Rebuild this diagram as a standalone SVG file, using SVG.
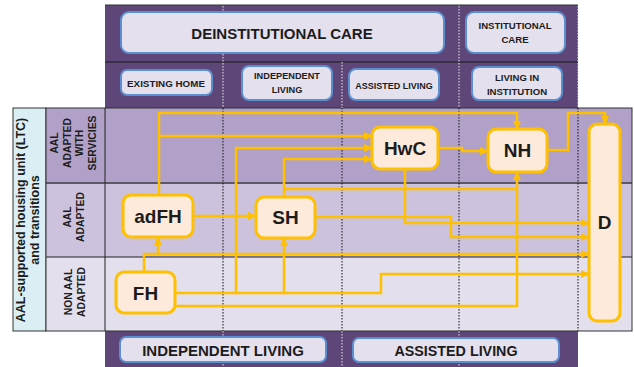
<svg xmlns="http://www.w3.org/2000/svg" width="634" height="367" viewBox="0 0 634 367">
<style>
text{font-family:"Liberation Sans",Arial,sans-serif;font-weight:bold;fill:#1c1c1c;text-anchor:middle}
.band{fill:#5e4778}
.hbox{fill:#e5e0ee;stroke:#5a8fd0;stroke-width:2}
.node rect{fill:#fdeadb;stroke:#ffc000;stroke-width:3}
.node text{font-size:19px}
.conn path{fill:none;stroke:#ffc000;stroke-width:2.5}
.arr{marker-end:url(#ah)}
.dotb{stroke:#111;stroke-width:1;stroke-dasharray:1.5 1.5}
.dotw{stroke:#e8e8e8;stroke-width:1;stroke-dasharray:1.5 1.5}
.rl{font-size:10.3px}
.ll{font-size:12.5px}
</style>
<defs>
<marker id="ah" markerUnits="userSpaceOnUse" markerWidth="9" markerHeight="8" refX="8" refY="4" orient="auto">
<path d="M0,0 L9,4 L0,8 z" fill="#ffc000"/>
</marker>
</defs>
<rect width="634" height="367" fill="#fff"/>

<!-- top band -->
<rect class="band" x="105" y="5" width="473" height="103"/>
<line x1="105" y1="5" x2="578" y2="5" stroke="#333" stroke-width="1"/>
<line x1="105" y1="62" x2="578" y2="62" stroke="#2e2838" stroke-width="1.5"/>
<!-- bottom band -->
<rect class="band" x="105" y="331" width="473" height="36"/>

<!-- table rows -->
<rect x="13" y="108" width="33" height="223" fill="#daeef3" stroke="#333" stroke-width="1"/>
<rect x="46" y="108" width="586" height="75" fill="#b1a1c8"/>
<rect x="46" y="183" width="586" height="74" fill="#cdc2dd"/>
<rect x="46" y="257" width="586" height="74" fill="#e3dfed"/>
<line x1="46" y1="183" x2="632" y2="183" stroke="#5d5868" stroke-width="2"/>
<line x1="46" y1="257" x2="632" y2="257" stroke="#222" stroke-width="1"/>
<rect x="46" y="108" width="586" height="223" fill="none" stroke="#333" stroke-width="1"/>
<line x1="105" y1="108" x2="105" y2="331" stroke="#222" stroke-width="1"/>

<!-- dotted lines -->
<g>
<line class="dotw" x1="223" y1="6" x2="223" y2="108"/>
<line class="dotw" x1="342" y1="62" x2="342" y2="108"/>
<line class="dotw" x1="459" y1="6" x2="459" y2="108"/>
<line class="dotw" x1="578" y1="6" x2="578" y2="108"/>
<line class="dotb" x1="223" y1="108" x2="223" y2="331"/>
<line class="dotb" x1="342" y1="108" x2="342" y2="331"/>
<line class="dotb" x1="459" y1="108" x2="459" y2="331"/>
<line class="dotb" x1="578" y1="108" x2="578" y2="331"/>
<line class="dotw" x1="223" y1="331" x2="223" y2="367"/>
<line class="dotw" x1="342" y1="331" x2="342" y2="367"/>
<line class="dotw" x1="459" y1="331" x2="459" y2="367"/>
</g>

<!-- header boxes -->
<g id="deinst"><rect class="hbox" x="121" y="12" width="323" height="41" rx="8"/><text x="282" y="39" font-size="15">DEINSTITUTIONAL CARE</text></g>
<g id="inst"><rect class="hbox" x="466" y="12" width="99" height="41" rx="8"/><text x="515" y="29" font-size="9.6">INSTITUTIONAL</text><text x="515" y="43" font-size="9.6">CARE</text></g>
<g id="existing"><rect class="hbox" x="121" y="70" width="91" height="25" rx="6"/><text x="166" y="86.5" font-size="9.8">EXISTING HOME</text></g>
<g id="indep"><rect class="hbox" x="242" y="66" width="90" height="34" rx="7"/><text x="287" y="79" font-size="9.2">INDEPENDENT</text><text x="287" y="93" font-size="9.2">LIVING</text></g>
<g id="assist"><rect class="hbox" x="349" y="69" width="90" height="31" rx="7"/><text x="394" y="88.5" font-size="9">ASSISTED LIVING</text></g>
<g id="livinst"><rect class="hbox" x="472" y="67" width="90" height="33" rx="7"/><text x="517" y="81" font-size="9.6">LIVING IN</text><text x="517" y="95" font-size="9.6">INSTITUTION</text></g>
<g id="indepliving"><rect class="hbox" x="120" y="337" width="206" height="25" rx="6"/><text x="223" y="356" font-size="15">INDEPENDENT LIVING</text></g>
<g id="assistliving"><rect class="hbox" x="353" y="338" width="206" height="24" rx="6"/><text x="456" y="356" font-size="14.3">ASSISTED LIVING</text></g>

<!-- row labels -->
<g id="leftlabel">
<text class="ll" transform="translate(25,220) rotate(-90)">AAL-supported housing unit (LTC)</text>
<text class="ll" transform="translate(39,220) rotate(-90)">and transitions</text>
</g>
<g id="row1label">
<text class="rl" transform="translate(58,143) rotate(-90)">AAL</text>
<text class="rl" transform="translate(70.5,143) rotate(-90)">ADAPTED</text>
<text class="rl" transform="translate(83,143) rotate(-90)">WITH</text>
<text class="rl" transform="translate(96,143) rotate(-90)">SERVICIES</text>
</g>
<g id="row2label">
<text class="rl" transform="translate(71,217) rotate(-90)">AAL</text>
<text class="rl" transform="translate(83.5,217) rotate(-90)">ADAPTED</text>
</g>
<g id="row3label">
<text class="rl" transform="translate(72,292) rotate(-90)">NON AAL</text>
<text class="rl" transform="translate(84.5,292) rotate(-90)">ADAPTED</text>
</g>

<!-- connectors -->
<g id="connectors" class="conn">
<path class="arr" d="M159,195 V113 H517 V129"/>
<path class="arr" d="M159,136 H372"/>
<path class="arr" d="M175,293 H236 V148 H372"/>
<path class="arr" d="M284,197 V159 H372"/>
<path d="M284,189 H517"/>
<path class="arr" d="M175,306 H517 V172"/>
<path class="arr" d="M438,148 H462 V151 H488"/>
<path class="arr" d="M547,150 H568 V113 H605 V124"/>
<path class="arr" d="M405,169 V223 H589"/>
<path class="arr" d="M315,217 H451 V237 H589"/>
<path class="arr" d="M193,216 H256"/>
<path class="arr" d="M144,272 V254 H589"/>
<path class="arr" d="M158,254 V237"/>
<path class="arr" d="M236,293 H284 V238"/>
<path class="arr" d="M284,293 H381 V274 H589"/>
</g>

<!-- nodes -->
<g id="adFH" class="node"><rect x="123" y="195" width="70" height="42" rx="8"/><text x="158" y="223">adFH</text></g>
<g id="SH" class="node"><rect x="256" y="197" width="59" height="41" rx="8"/><text x="285.5" y="224">SH</text></g>
<g id="HwC" class="node"><rect x="372" y="127" width="66" height="42" rx="8"/><text x="405" y="154.5">HwC</text></g>
<g id="NH" class="node"><rect x="488" y="129" width="59" height="43" rx="8"/><text x="517.5" y="157">NH</text></g>
<g id="D" class="node"><rect x="589" y="124" width="31" height="197" rx="8"/><text x="604.5" y="229">D</text></g>
<g id="FH" class="node"><rect x="116" y="272" width="59" height="41" rx="8"/><text x="145.5" y="299.5">FH</text></g>
</svg>
